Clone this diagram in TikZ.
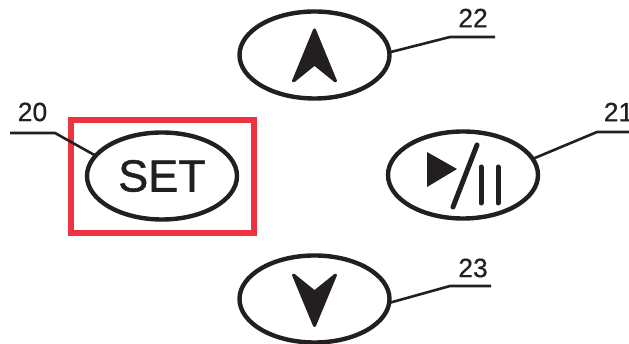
\documentclass[tikz,border=0pt]{standalone}
\usepackage{fontspec}
\setmainfont{Liberation Sans}
\newfontfamily\heavyface[FakeBold=1.2]{Liberation Sans}
\newfontfamily\tagface[FakeBold=0.5]{Liberation Sans}
\usetikzlibrary{shapes.geometric}
\definecolor{ink}{HTML}{231F20}
\definecolor{markred}{HTML}{EE3340}
\tikzset{
  btn/.style={draw=ink,line width=4.4pt,ellipse,inner sep=0pt,outer sep=0pt,minimum width=150pt,minimum height=87pt},
  leader/.style={draw=ink,line width=2.6pt,line join=round},
  tag/.style={text=ink,font=\tagface\fontsize{26.5}{28}\selectfont,inner sep=0pt},
  glyph/.style={fill=ink,draw=ink,line width=3pt,line join=round},
  barline/.style={draw=ink,line width=5pt,line cap=round}
}
\begin{document}
\begin{tikzpicture}[x=1pt,y=-1pt]
\useasboundingbox (0,0) rectangle (629,344);
\draw[markred,line width=6pt] (70.5,120) rectangle (254,233);
\node[btn,font=\heavyface\fontsize{45}{48}\selectfont,text=ink] (set) at (162,176) {SET};
\node[btn] (play) at (463,175) {};
\node[btn] (up) at (314.5,55) {};
\node[btn] (down) at (314.5,299) {};
\coordinate (a0) at (10,133); \coordinate (a1) at (55,133);
\coordinate (b0) at (629,132); \coordinate (b1) at (597,132);
\coordinate (c0) at (495,37); \coordinate (c1) at (450,37);
\coordinate (d0) at (491,286); \coordinate (d1) at (450,286);
\draw[leader] (a0) -- (a1) -- (set.163);
\draw[leader] (b0) -- (b1) -- (play.13);
\draw[leader] (c0) -- (c1) -- (up.2);
\draw[leader] (d0) -- (d1) -- (down.-3);
\node[tag] (t20) at (32.5,112) {20};
\node[tag] (t21) at (618.5,112) {21};
\node[tag] (t22) at (473,18) {22};
\node[tag] (t23) at (473,268) {23};
\draw[glyph] (314.5,30) -- (293.5,81) -- (314.5,64) -- (335.5,81) -- cycle;
\draw[glyph] (314.5,325.5) -- (293.5,275) -- (314.5,292) -- (335.5,275) -- cycle;
\fill[ink] (427,152) -- (427,187) -- (457,169) -- cycle;
\draw[barline] (477,145) -- (453,207);
\draw[barline] (481,167) -- (481,203);
\draw[barline] (498,167) -- (498,203);
\end{tikzpicture}
\end{document}
